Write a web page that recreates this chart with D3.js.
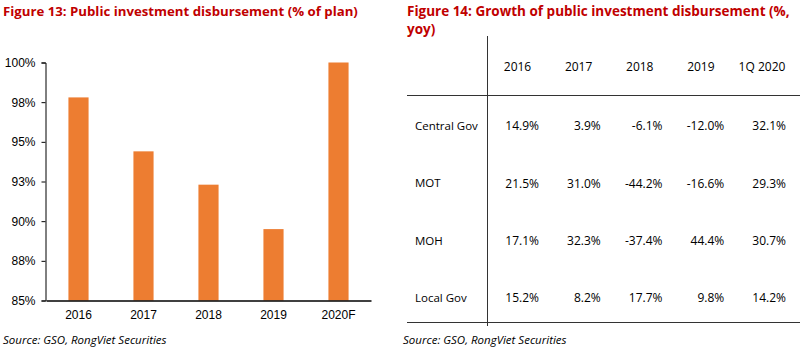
<!DOCTYPE html>
<html>
<head>
<meta charset="utf-8">
<script src="https://cdn.jsdelivr.net/npm/d3@7"></script>
<style>
    body { margin: 0; background: #fff; }
    svg { display: block; font-family: "Open Sans", "Noto Sans", sans-serif; }
</style>
</head>
<body>
<div id="chart"></div>
<script>
// Figure 13 data
const years = ["2016", "2017", "2018", "2019", "2020F"];
const disbursement = [97.8, 94.4, 92.3, 89.5, 100];
const yTicks = [85, 87.5, 90, 92.5, 95, 97.5, 100];

// Figure 14 data
const tableColumns = ["2016", "2017", "2018", "2019", "1Q 2020"];
const tableRows = ["Central Gov", "MOT", "MOH", "Local Gov"];
const centralGov = ["14.9%", "3.9%", "-6.1%", "-12.0%", "32.1%"];
const mot = ["21.5%", "31.0%", "-44.2%", "-16.6%", "29.3%"];
const moh = ["17.1%", "32.3%", "-37.4%", "44.4%", "30.7%"];
const localGov = ["15.2%", "8.2%", "17.7%", "9.8%", "14.2%"];

const titleColor = "#c00000";
const barColor = "#ed7d31";

const svg = d3.select("#chart").append("svg")
    .attr("width", 800)
    .attr("height", 354);

// shrink a title's font size until it fits the given width
function addTitle(x, y, text, maxWidth) {
    const t = svg.append("text")
        .attr("x", x)
        .attr("y", y)
        .style("font-size", "15px")
        .style("font-weight", "bold")
        .style("fill", titleColor)
        .text(text);
    const w = t.node().getComputedTextLength();
    if (w > maxWidth) t.style("font-size", (15 * maxWidth / w).toFixed(2) + "px");
    return t;
}

// ---- Left: bar chart ----
addTitle(3, 16, "Figure 13: Public investment disbursement (% of plan)", 355);

const x = d3.scaleBand()
    .domain(years)
    .range([46, 371])
    .paddingInner(0.69)
    .paddingOuter(0.345);

const y = d3.scaleLinear()
    .domain([85, 100])
    .range([300.5, 62.5]);

svg.append("g")
    .selectAll("rect")
    .data(years)
    .enter().append("rect")
    .attr("x", d => x(d))
    .attr("y", (d, i) => y(disbursement[i]))
    .attr("width", x.bandwidth())
    .attr("height", (d, i) => y(85) - y(disbursement[i]))
    .attr("fill", barColor);

const yAxis = svg.append("g")
    .attr("transform", "translate(45.5,0)")
    .call(d3.axisLeft(y).tickValues(yTicks).tickSize(4).tickPadding(6)
        .tickFormat(d => d3.format(".0f")(d) + "%"));
yAxis.select(".domain").attr("stroke", "#000");
yAxis.selectAll("text").style("font-size", "12px").style("fill", "#000").attr("font-family", null);

const xAxis = svg.append("g")
    .attr("transform", "translate(0,300.5)")
    .call(d3.axisBottom(x).tickSize(0).tickPadding(10));
xAxis.select(".domain").attr("stroke", "#000").attr("stroke-width", 1.6);
xAxis.selectAll("text").style("font-size", "12px").style("fill", "#000").attr("font-family", null);

svg.append("text")
    .attr("x", 3)
    .attr("y", 344)
    .style("font-size", "11.5px")
    .style("font-style", "italic")
    .text("Source: GSO, RongViet Securities");

// ---- Right: table ----
const t14 = addTitle(407, 16, "Figure 14: Growth of public investment disbursement (%,", 383);

svg.append("text")
    .attr("x", 407)
    .attr("y", 34)
    .style("font-size", t14.style("font-size"))
    .style("font-weight", "bold")
    .style("fill", titleColor)
    .text("yoy)");

const colRight = d3.scalePoint()
    .domain(tableColumns)
    .range([539, 786]);

const headerCenter = d3.scalePoint()
    .domain(tableColumns)
    .range([517.5, 762]);

const rowY = d3.scalePoint()
    .domain(tableRows)
    .range([126, 298]);

const lineColor = "#333";
svg.append("line")
    .attr("x1", 487.5).attr("x2", 487.5)
    .attr("y1", 36).attr("y2", 326)
    .attr("stroke", lineColor);
svg.append("line")
    .attr("x1", 407).attr("x2", 800)
    .attr("y1", 95.5).attr("y2", 95.5)
    .attr("stroke", lineColor);
svg.append("line")
    .attr("x1", 407).attr("x2", 800)
    .attr("y1", 322.5).attr("y2", 322.5)
    .attr("stroke", lineColor);

svg.append("g")
    .selectAll("text")
    .data(tableColumns)
    .enter().append("text")
    .attr("x", d => headerCenter(d))
    .attr("y", 67)
    .attr("dy", "0.35em")
    .attr("text-anchor", "middle")
    .style("font-size", "12px")
    .text(d => d);

const tableValues = [centralGov, mot, moh, localGov];

tableRows.forEach((row, r) => {
    const g = svg.append("g");
    g.append("text")
        .attr("x", 415)
        .attr("y", rowY(row))
        .attr("dy", "0.35em")
        .style("font-size", "11.5px")
        .text(row);
    g.selectAll("text.val")
        .data(tableValues[r])
        .enter().append("text")
        .attr("class", "val")
        .attr("x", (d, i) => colRight(tableColumns[i]))
        .attr("y", rowY(row))
        .attr("dy", "0.35em")
        .attr("text-anchor", "end")
        .style("font-size", "12px")
        .text(d => d);
});

svg.append("text")
    .attr("x", 403)
    .attr("y", 344)
    .style("font-size", "11.5px")
    .style("font-style", "italic")
    .text("Source: GSO, RongViet Securities");
</script>
</body>
</html>
